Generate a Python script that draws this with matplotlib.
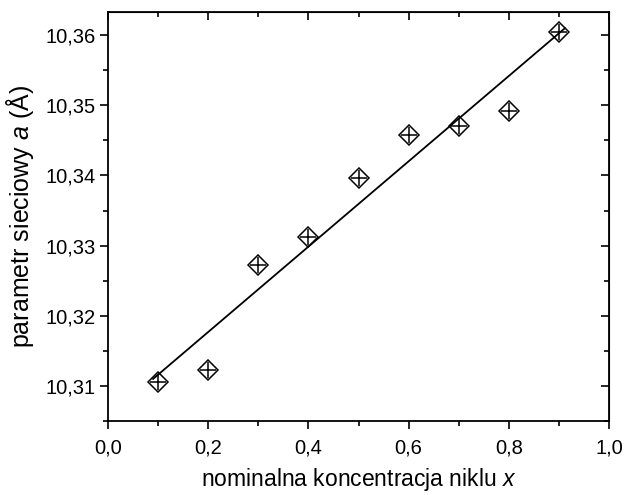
import numpy as np
import matplotlib
matplotlib.use("Agg")
import matplotlib.pyplot as plt
from matplotlib.ticker import MultipleLocator, FuncFormatter

# Nickel concentration and measured lattice parameter
x_nominal = [0.1, 0.2, 0.3, 0.4, 0.5, 0.6, 0.7, 0.8, 0.9]
a_lattice = [10.3105, 10.3123, 10.3272, 10.3312, 10.3397, 10.3458, 10.3470, 10.3492, 10.3605]

x_ticks = [0.0, 0.2, 0.4, 0.6, 0.8, 1.0]
y_ticks = [10.31, 10.32, 10.33, 10.34, 10.35, 10.36]

plt.rcParams["font.family"] = ["Liberation Sans", "DejaVu Sans"]
plt.rcParams["mathtext.fontset"] = "custom"
plt.rcParams["mathtext.rm"] = "Liberation Sans"
plt.rcParams["mathtext.it"] = "Liberation Sans:italic"

fig = plt.figure(figsize=(6.26, 4.95), dpi=100)
ax = fig.add_axes([108 / 626, 1 - 421 / 495, (609 - 108) / 626, (421 - 12) / 495])

# linear fit through the data
slope, intercept = np.polyfit(x_nominal, a_lattice, 1)
xf = np.array([0.09, 0.912])
ax.plot(xf, slope * xf + intercept, color="black", lw=1.3, zorder=2)

ax.plot(x_nominal, a_lattice, linestyle="none", marker="D", markersize=10.5,
        markerfacecolor="none", markeredgecolor="black", markeredgewidth=1.1, zorder=3)
ax.plot(x_nominal, a_lattice, linestyle="none", marker="+", markersize=11,
        markeredgecolor="black", markeredgewidth=1.1, zorder=3)

ax.set_xlim(0.0, 1.0)
ax.set_ylim(10.305, 10.3633)

comma = lambda fmt: FuncFormatter(lambda v, p: (fmt % v).replace(".", ","))
ax.set_xticks(x_ticks)
ax.set_yticks(y_ticks)
ax.xaxis.set_minor_locator(MultipleLocator(0.1))
ax.yaxis.set_minor_locator(MultipleLocator(0.005))
ax.xaxis.set_major_formatter(comma("%.1f"))
ax.yaxis.set_major_formatter(comma("%.2f"))

ax.tick_params(which="major", direction="out", length=6, width=1.2, labelsize=14.5)
ax.tick_params(which="minor", direction="out", length=3.5, width=1.2)
ax.tick_params(axis="x", which="major", pad=6.5)
ax.tick_params(axis="y", which="major", pad=3)

for side in ("top", "right"):
    if side == "top":
        sec = ax.secondary_xaxis("top")
        sec.set_xticks(x_ticks)
        sec.xaxis.set_minor_locator(MultipleLocator(0.1))
    else:
        sec = ax.secondary_yaxis("right")
        sec.set_yticks(y_ticks)
        sec.yaxis.set_minor_locator(MultipleLocator(0.005))
    sec.tick_params(which="major", direction="in", length=6, width=1.2,
                    labelleft=False, labelright=False, labeltop=False, labelbottom=False)
    sec.tick_params(which="minor", direction="in", length=3.5, width=1.2)

for sp in ax.spines.values():
    sp.set_linewidth(1.3)

ax.set_xlabel("nominalna koncentracja niklu $x$", fontsize=16.5, labelpad=6)
ax.set_ylabel("parametr sieciowy $a$ (Å)", fontsize=18, labelpad=7)

fig.savefig("out.png", dpi=100)
